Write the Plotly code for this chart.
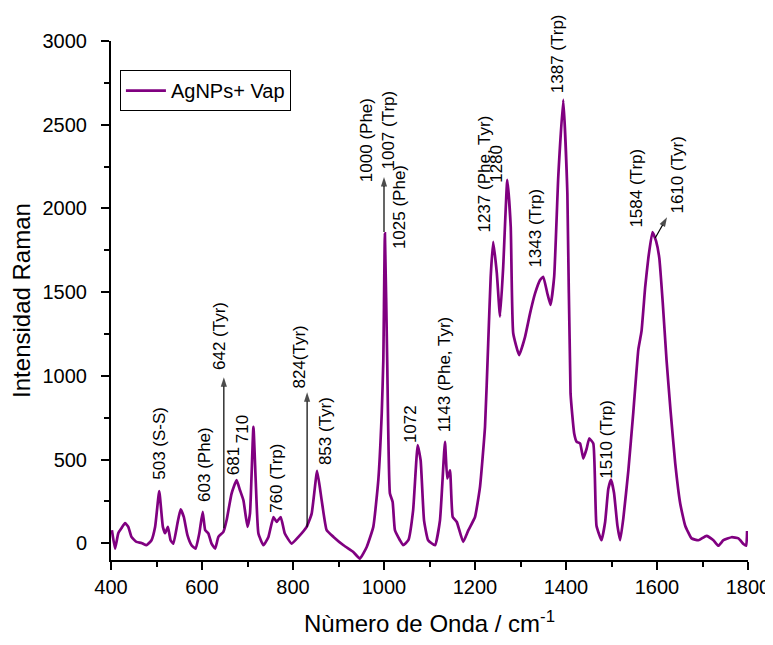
import plotly.graph_objects as go

# Raman spectrum (wavenumber cm-1, intensity)
wavenumber = [402, 409, 416, 423, 431, 438, 445, 456, 467, 478, 489, 497, 506, 514, 519, 525,
              531, 537, 546, 553, 560, 568, 577, 586, 594, 601.5, 607, 614, 621, 629, 636, 647,
              654, 665, 676, 683.5, 691, 700, 705.5, 713, 718, 724, 735, 746, 757, 764, 773, 782,
              797, 812, 830, 841, 853, 863, 874, 889, 911, 932.5, 947, 962, 976.5, 987.5, 995,
              998.5, 1002, 1007, 1013, 1019, 1024, 1035, 1042, 1053.5, 1064, 1074, 1080.5, 1088,
              1097, 1112, 1123, 1134, 1139, 1145, 1151, 1160, 1174, 1185.5, 1200, 1211, 1222,
              1229, 1234.5, 1240, 1248, 1255, 1262, 1271, 1278.5, 1284, 1297, 1310, 1321, 1332,
              1343, 1350, 1359, 1366, 1374, 1383, 1394, 1403, 1410, 1418, 1423.5, 1431, 1438,
              1445.5, 1451, 1460, 1467, 1478, 1486, 1493, 1499, 1505.5, 1513, 1519, 1526, 1537,
              1548, 1559, 1566, 1574, 1581, 1590, 1598, 1605, 1612.5, 1621, 1630, 1640, 1651,
              1662, 1676, 1691, 1709, 1724, 1735, 1746, 1764, 1779, 1790, 1796, 1798]
intensity = [78, -32, 60, 90, 120, 98, 38, 8, 2, -12, 18, 98, 311, 98, 60, 98,
             18, -2, 118, 203, 157, 48, -12, -32, 58, 187, 78, 58, -2, -32, 38, 68,
             137, 297, 377, 317, 257, 98, 178, 695, 377, 58, -12, 38, 157, 127, 157, 58,
             -2, 38, 98, 177, 432, 257, 78, 38, -12, -52, -92, -22, 98, 377, 775,
             1094, 1851, 1094, 297, 247, 78, 18, -12, 18, 197, 586, 496, 137,
             18, -12, 137, 606, 387, 436, 157, 127, 8, 78, 157, 337, 695,
             1194, 1592, 1801, 1612, 1353, 1652, 2170, 1891, 1254, 1124, 1233, 1373, 1492,
             1572, 1592, 1492, 1423, 1592, 2189, 2648, 2090, 895, 656, 606, 596, 506,
             566, 626, 596, 105, 18, 127, 325, 380, 302, 105, 18, 149, 434,
             785, 1158, 1267, 1530, 1705, 1859, 1804, 1705, 1442, 1092, 785, 478, 237,
             105, 29, 18, 44, 18, -15, 18, 36, 29, -4, -15, 73]

series_name = "AgNPs+ Vap"

x_ticks = [400, 600, 800, 1000, 1200, 1400, 1600, 1800]
y_ticks = [0, 500, 1000, 1500, 2000, 2500, 3000]

# Peak labels: text, x (cm-1), y (bottom of rotated label)
label_texts = ["503 (S-S)", "603 (Phe)", "681", "710", "760 (Trp)", "853 (Tyr)", "824(Tyr)",
               "642 (Tyr)", "1000 (Phe)", "1007 (Trp)", "1025 (Phe)", "1072", "1143 (Phe, Tyr)",
               "1237 (Phe, Tyr)", "1280", "1343 (Trp)", "1387 (Trp)", "1510 (Trp)",
               "1584 (Trp)", "1610 (Tyr)"]
label_x = [508, 607, 668, 688, 765, 870, 815, 637, 963, 1009, 1033, 1057, 1132,
           1222, 1248, 1332, 1382, 1490, 1554, 1646]
label_y = [377, 245, 406, 598, 179, 466, 926, 1034, 2158, 2230, 1757, 598, 663,
           1853, 2152, 1644, 2690, 388, 1883, 1972]

# Arrows: tail (x, y) -> head (x, y)
arrow_tail_x = [648, 831, 1000, 1596]
arrow_tail_y = [90, 96, 1859, 1823]
arrow_head_x = [648, 831, 1000, 1622]
arrow_head_y = [992, 902, 2188, 1948]

FONT = "Arial, Liberation Sans, sans-serif"

fig = go.Figure()
fig.add_trace(go.Scatter(x=wavenumber, y=intensity, mode="lines", name=series_name,
                         line=dict(color="#800080", width=2.7, shape="spline", smoothing=0.4)))

for tx, ty, hx, hy in zip(arrow_tail_x, arrow_tail_y, arrow_head_x, arrow_head_y):
    fig.add_trace(go.Scatter(x=[tx, hx], y=[ty, hy], mode="lines+markers", showlegend=False,
                             hoverinfo="skip",
                             line=dict(color="black", width=1.2),
                             marker=dict(symbol=["circle", "arrow"], size=[0, 10],
                                         angleref="previous", color="black",
                                         line=dict(width=0))))

annotations = []
for t, lx, ly in zip(label_texts, label_x, label_y):
    annotations.append(dict(x=lx, y=ly, xref="x", yref="y", text=t, showarrow=False,
                            textangle=-90, xanchor="center", yanchor="bottom",
                            font=dict(family=FONT, size=17, color="black"),
                            borderpad=0, borderwidth=0))

# page body has an 8px default margin, so the figure is sized to fit the window
fig.update_layout(
    width=765, height=629,
    margin=dict(l=103, r=25, t=33, b=77, autoexpand=False),
    paper_bgcolor="white", plot_bgcolor="white",
    font=dict(family=FONT, color="black"),
    showlegend=True,
    legend=dict(x=0.014, y=0.944, xanchor="left", yanchor="top",
                bordercolor="black", borderwidth=1, bgcolor="white",
                tracegroupgap=0, itemwidth=40,
                font=dict(family=FONT, size=20, color="black")),
    annotations=annotations,
)
fig.update_xaxes(range=[400, 1800], tickvals=x_ticks, ticks="outside", ticklen=8, tickwidth=1.8,
                 tickcolor="black", showline=True, linecolor="black", linewidth=2,
                 showgrid=False, zeroline=False, tickfont=dict(family=FONT, size=20),
                 automargin=True,
                 minor=dict(dtick=100, tick0=0, ticks="outside", ticklen=5, tickwidth=1.5,
                            tickcolor="black", showgrid=False),
                 title=dict(text="Nùmero de Onda / cm<sup>-1</sup>", standoff=22,
                            font=dict(family=FONT, size=24)))
fig.update_yaxes(range=[-100, 3000], tickvals=y_ticks, ticks="outside", ticklen=8, tickwidth=1.8,
                 tickcolor="black", showline=True, linecolor="black", linewidth=2,
                 showgrid=False, zeroline=False, tickfont=dict(family=FONT, size=20),
                 automargin=True, ticklabelstandoff=10,
                 minor=dict(dtick=250, tick0=0, ticks="outside", ticklen=5, tickwidth=1.5,
                            tickcolor="black", showgrid=False),
                 title=dict(text="Intensidad Raman", standoff=10,
                            font=dict(family=FONT, size=24)))

fig.write_html("out.html")
